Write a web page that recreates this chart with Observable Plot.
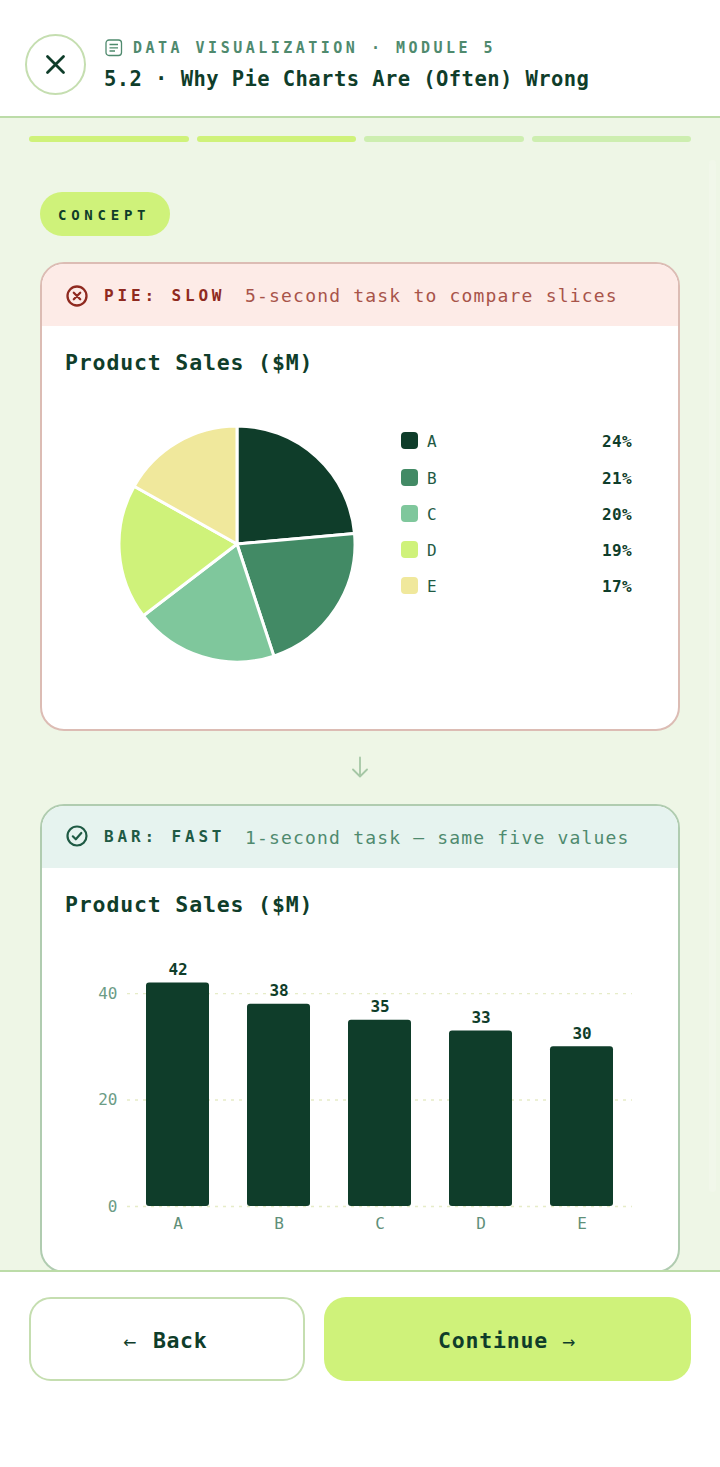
<!DOCTYPE html>
<html><head><meta charset="utf-8">
<script src="https://cdn.jsdelivr.net/npm/d3@7"></script>
<script src="https://cdn.jsdelivr.net/npm/@observablehq/plot@0.6"></script>
<style>
html,body{margin:0;padding:0;background:#fff}
#page{position:relative;width:720px;height:1467px;overflow:hidden;background:#fff;font-family:"DejaVu Sans Mono",monospace;color:#0f3d2a}
#page div,#page svg.abs{position:absolute;box-sizing:border-box}
.t{white-space:pre;line-height:1}
.b{font-weight:700}
</style></head><body>
<div id="page">
<div style="left:0;top:117px;width:720px;height:1155px;background:#eef6e6"></div>
<div style="left:0;top:116px;width:720px;height:2px;background:#bcdca8"></div>
<div style="left:25px;top:34px;width:61px;height:61px;border:2px solid #c5deb0;border-radius:50%"></div>
<svg class="abs" style="position:absolute;left:45px;top:54px" width="21" height="21" fill="none" stroke="#0f3d2a" stroke-width="2.8" stroke-linecap="round"><path d="M2.5 2.5L18.5 18.5M18.5 2.5L2.5 18.5"/></svg>
<svg class="abs" style="position:absolute;left:105px;top:39px" width="18" height="18" fill="none" stroke="#4f8a6e" stroke-width="1.3"><rect x="1" y="1" width="15.5" height="15.5" rx="3"/><path d="M4.5 5.5H13M4.5 8.8H13M4.5 12H10"/></svg>
<div class="t b" style="left:133px;top:41px;font-size:15px;letter-spacing:3.49px;color:#4f8a6e" id="kicker">DATA VISUALIZATION · MODULE 5</div>
<div class="t b" style="left:104px;top:69px;font-size:20.5px;letter-spacing:.43px">5.2 · Why Pie Charts Are (Often) Wrong</div>

<div style="left:29px;top:136px;width:160px;height:5.5px;border-radius:3px;background:#cff27a"></div>
<div style="left:197px;top:136px;width:159px;height:5.5px;border-radius:3px;background:#cff27a"></div>
<div style="left:364px;top:136px;width:160px;height:5.5px;border-radius:3px;background:#cdeeb0"></div>
<div style="left:532px;top:136px;width:159px;height:5.5px;border-radius:3px;background:#cdeeb0"></div>
<div style="left:709px;top:160px;width:7px;height:1032px;border-radius:4px;background:#f1f7ea"></div>

<div style="left:40px;top:192px;width:130px;height:44px;border-radius:22px;background:#cff27a"></div>
<div class="t b" style="left:58px;top:208px;font-size:14px;letter-spacing:4.75px">CONCEPT</div>

<div style="left:40px;top:262px;width:640px;height:469px;border:2px solid #dcbcb4;border-radius:24px;background:#fff;overflow:hidden">
  <div style="left:0;top:0;width:100%;height:62px;background:#fdebe7"></div>
</div>
<svg class="abs" style="position:absolute;left:66px;top:285px" width="22" height="22" fill="none" stroke="#8f2a20" stroke-width="2.3" stroke-linecap="round"><circle cx="11" cy="11" r="9.5"/><path d="M7.8 7.8L14.2 14.2M14.2 7.8L7.8 14.2"/></svg>
<div class="t b" style="left:104px;top:288px;font-size:16px;letter-spacing:3.85px;color:#8f2a20">PIE: SLOW</div>
<div class="t" style="left:245px;top:287px;font-size:18px;letter-spacing:1.19px;color:#a8544a">5-second task to compare slices</div>
<div class="t b" style="left:65px;top:352px;font-size:21.5px;letter-spacing:.85px">Product Sales ($M)</div>
<div id="pie" style="left:80px;top:387px;width:314px;height:314px"></div>
<div id="legend" style="left:0;top:0"></div>

<svg class="abs" style="position:absolute;left:350px;top:756px" width="20" height="22" fill="none" stroke="#a5c7a5" stroke-width="1.8" stroke-linecap="round" stroke-linejoin="round"><path d="M10 1.5V20M3 13.5L10 20.5L17 13.5"/></svg>

<div style="left:40px;top:804px;width:640px;height:469px;border:2px solid #b0ccb0;border-radius:24px;background:#fff;overflow:hidden">
  <div style="left:0;top:0;width:100%;height:62px;background:#e6f3ef"></div>
</div>
<svg class="abs" style="position:absolute;left:66px;top:825px" width="22" height="22" fill="none" stroke="#1f5a44" stroke-width="2.2" stroke-linecap="round" stroke-linejoin="round"><circle cx="11" cy="11" r="9.5"/><path d="M6.8 11.3L9.8 14.3L15.3 8"/></svg>
<div class="t b" style="left:104px;top:829px;font-size:16px;letter-spacing:3.85px;color:#1f5a44">BAR: FAST</div>
<div class="t" style="left:245px;top:829px;font-size:18px;letter-spacing:1.18px;color:#4f8a6e">1-second task — same five values</div>
<div class="t b" style="left:65px;top:894px;font-size:21.5px;letter-spacing:.85px">Product Sales ($M)</div>
<div id="bars" style="left:40px;top:940px;width:640px;height:320px"></div>

<div style="left:0;top:1270px;width:720px;height:197px;background:#fff;border-top:2px solid #bcdca8"></div>
<div style="left:29px;top:1297px;width:276px;height:84px;border:2px solid #c5deb0;border-radius:22px;background:#fff"></div>
<div style="left:324px;top:1297px;width:367px;height:84px;border-radius:22px;background:#cff27a"></div>
<div class="t" style="left:123px;top:1335px;font-size:16px;font-family:'DejaVu Sans'">←</div>
<div class="t b" style="left:153px;top:1330px;font-size:21.5px;letter-spacing:.6px">Back</div>
<div class="t b" style="left:438px;top:1330px;font-size:21.5px;letter-spacing:.8px">Continue</div>
<div class="t" style="left:562px;top:1335px;font-size:16px;font-family:'DejaVu Sans'">→</div>
</div>
<script>
const categories = ["A","B","C","D","E"];
const sales = [42,38,35,33,30];
const shares = [24,21,20,19,17];
const sliceColors = ["#0f3d2a","#428a65","#7fc79c","#cff27a","#f0e89c"];
const yTicks = [0,20,40];
const legendRows = [441,478,514,550,586];
const FONT = '"DejaVu Sans Mono",monospace';
const rows = categories.map((name,i)=>({name,value:sales[i],share:shares[i]}));

// Pie: Plot's colour scale feeds a custom arc renderer on a dot mark.
const pie = Plot.plot({
  width:314,height:314,margin:0,
  x:{axis:null},y:{axis:null},
  color:{domain:categories,range:sliceColors},
  marks:[Plot.dot(rows,{
    fill:"name",
    frameAnchor:"middle",
    render(index,scales,values,dimensions,context){
      const cx=dimensions.width/2, cy=dimensions.height/2;
      const arcs=d3.pie().sort(null).value(i=>rows[i].value)(Array.from(index));
      const arc=d3.arc().innerRadius(0).outerRadius(118);
      const g=d3.select(context.document.createElementNS("http://www.w3.org/2000/svg","g"))
        .attr("transform",`translate(${cx},${cy})`);
      g.selectAll("path").data(arcs).join("path")
        .attr("d",arc).attr("fill",d=>values.fill[d.data])
        .attr("stroke","#fff").attr("stroke-width",3).attr("stroke-linejoin","round");
      return g.node();
    }
  })]
});
document.getElementById("pie").append(pie);

const legend=document.getElementById("legend");
rows.forEach((r,i)=>{
  const y=legendRows[i];
  legend.insertAdjacentHTML("beforeend",
   `<div style="left:401px;top:${y-9}px;width:16.5px;height:16.5px;border-radius:4px;background:${sliceColors[i]}"></div>
    <div class="t" style="left:427px;top:${y-7.5}px;font-size:16px;color:#1f5a44">${r.name}</div>
    <div class="t b" style="left:602px;top:${y-7.5}px;font-size:16px;letter-spacing:.4px">${r.share}%</div>`);
});

const bars = Plot.plot({
  width:640,height:320,marginLeft:87,marginRight:48,marginTop:26,marginBottom:54,
  style:{fontFamily:FONT,background:"transparent"},
  x:{domain:categories,paddingInner:.376,paddingOuter:.188,align:.5,label:null},
  y:{domain:[0,45.1],label:null},
  marks:[
    Plot.axisX({tickSize:0,tickPadding:11,fontSize:16,color:"#5f9079",label:null}),
    Plot.axisY({ticks:yTicks,tickSize:0,tickPadding:10,fontSize:16,color:"#6c9c86",label:null}),
    Plot.ruleY(yTicks,{stroke:"#e6ecc8",strokeWidth:1.4,strokeDasharray:"3 5"}),
    Plot.barY(rows,{x:"name",y:"value",fill:"#0f3d2a",rx:3}),
    Plot.text(rows,{x:"name",y:"value",text:d=>String(d.value),dy:-13,fontSize:16,fontWeight:700,fill:"#0f3d2a"})
  ]
});
document.getElementById("bars").append(bars);
</script>
</body></html>
